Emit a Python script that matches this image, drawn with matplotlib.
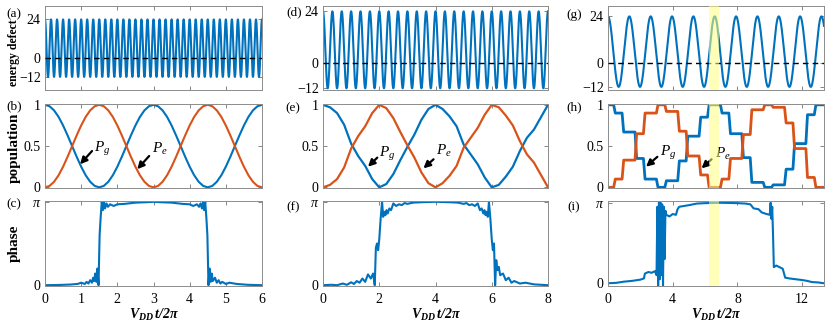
import numpy as np
import matplotlib
matplotlib.use('Agg')
import matplotlib.pyplot as plt

# police de type Times, comme la figure d'origine
plt.rcParams['font.family'] = ['Liberation Serif', 'DejaVu Serif']
plt.rcParams['mathtext.fontset'] = 'custom'
plt.rcParams['mathtext.rm'] = 'Liberation Serif'
plt.rcParams['mathtext.it'] = 'Liberation Serif:italic'
plt.rcParams['mathtext.bf'] = 'Liberation Serif:bold:italic'

BLUE = '#0072BD'
ORANGE = '#D95319'

# ---------------- donnees ----------------
# defaut d'energie : extremes et nombre de cycles par unite de V_DD t/2pi
defect_max = 24
defect_min = -12
defect_freq = [6.0, 3.0, 0.758]
t_end = [6, 8, 13.35]

# population P_g, panneau (b), pas de 0.125
pg_b = [1.0, 0.983, 0.933, 0.854, 0.75, 0.629, 0.5, 0.371, 0.25, 0.146, 0.067, 0.017, 0.0,
        0.017, 0.067, 0.146, 0.25, 0.371, 0.5, 0.629, 0.75, 0.854, 0.933, 0.983, 1.0,
        0.983, 0.933, 0.854, 0.75, 0.629, 0.5, 0.371, 0.25, 0.146, 0.067, 0.017, 0.0,
        0.017, 0.067, 0.146, 0.25, 0.371, 0.5, 0.629, 0.75, 0.854, 0.933, 0.983, 1.0]

# population P_g, panneau (e), pas de 0.25
pg_e = [1.0, 0.97, 0.9, 0.76, 0.53, 0.38, 0.26, 0.1, 0.0, 0.04, 0.16, 0.33, 0.49,
        0.64, 0.82, 0.95, 1.0, 0.95, 0.86, 0.74, 0.52, 0.4, 0.28, 0.12, 0.0,
        0.03, 0.13, 0.25, 0.44, 0.6, 0.7, 0.85, 1.0]

# population P_g, panneau (h) : instants des sauts et paliers
h_switch = [0.40, 0.92, 1.72, 2.24, 3.04, 3.56, 4.36, 4.88, 5.68, 6.20,
            7.00, 7.52, 8.32, 8.84, 9.64, 10.16, 10.96, 11.48, 12.28, 12.80]
h_pg_levels = [1.0, 0.9, 0.67, 0.35, 0.1, 0.0, 0.08, 0.32, 0.62, 0.85, 1.0,
               0.9, 0.65, 0.36, 0.06, 0.0, 0.03, 0.22, 0.53, 0.88, 1.0]

# phase (en unites de pi)
c_t = [0, 0.4, 0.7, 0.9, 1.0, 1.1, 1.15, 1.2, 1.25, 1.3, 1.33, 1.36, 1.39, 1.42, 1.45,
       1.48, 1.51, 1.54, 1.57, 1.6, 1.63, 1.66, 1.7, 1.74, 1.8, 1.9, 2.0, 2.2, 2.5, 2.8,
       3.0, 3.2, 3.5, 3.8, 4.0, 4.1, 4.2, 4.26, 4.3, 4.34, 4.37, 4.4, 4.43, 4.46, 4.49,
       4.52, 4.55, 4.58, 4.61, 4.64, 4.7, 4.75, 4.8, 4.85, 4.9, 5.0, 5.1, 5.3, 5.6, 6.0]
c_phase = [0, 0.003, 0.008, 0.015, 0.03, 0.015, 0.04, 0.02, 0.06, 0.03, 0.09, 0.05, 0.14, 0.04, 0.2,
           0.0, 0.6, 0.82, 1.0, 0.9, 1.0, 0.92, 0.98, 0.94, 0.97, 0.95, 0.97, 0.975, 0.99, 0.995,
           1.0, 0.995, 0.99, 0.975, 0.97, 0.95, 0.97, 0.94, 0.98, 0.92, 1.0, 0.9, 1.0, 0.82, 0.6,
           0.0, 0.2, 0.04, 0.14, 0.05, 0.09, 0.03, 0.06, 0.02, 0.04, 0.015, 0.03, 0.015, 0.005, 0.0]

f_t = [0, 0.3, 0.5, 0.7, 0.85, 1.0, 1.1, 1.2, 1.3, 1.4, 1.5, 1.6, 1.7, 1.78, 1.84, 1.88, 1.92,
       1.96, 2.0, 2.05, 2.1, 2.14, 2.18, 2.22, 2.26, 2.3, 2.36, 2.42, 2.5, 2.6, 2.7, 2.8, 2.9,
       3.0, 3.2, 3.5, 4.0, 4.5, 4.8, 5.0, 5.1, 5.2, 5.3, 5.4, 5.5, 5.58, 5.64, 5.7, 5.74, 5.78,
       5.82, 5.86, 5.9, 5.95, 6.0, 6.04, 6.08, 6.12, 6.16, 6.2, 6.25, 6.3, 6.4, 6.5, 6.6, 6.7,
       6.8, 7.0, 7.2, 7.5, 8.0]
f_phase = [0, 0.005, 0.0, 0.02, 0.005, 0.035, 0.015, 0.05, 0.03, 0.08, 0.04, 0.13, 0.08, 0.14, 0.0, 0.45, 0.5,
           0.42, 0.55, 0.8, 1.0, 0.82, 0.88, 0.84, 0.9, 0.86, 0.92, 0.9, 0.98, 0.95, 0.97, 0.96, 0.985,
           0.975, 0.99, 0.995, 1.0, 0.995, 0.99, 0.975, 0.985, 0.96, 0.97, 0.95, 0.98, 0.9, 0.92, 0.86, 0.9, 0.84,
           0.88, 0.82, 1.0, 0.8, 0.55, 0.42, 0.5, 0.0, 0.3, 0.18, 0.22, 0.12, 0.14, 0.06, 0.09, 0.03,
           0.05, 0.02, 0.03, 0.01, 0.0]

i_t = [0, 0.5, 1.0, 1.5, 2.0, 2.22, 2.28, 2.5, 2.7, 2.9, 3.0, 3.05, 3.1, 3.15, 3.2, 3.25, 3.3,
       3.35, 3.4, 3.45, 3.5, 3.55, 3.6, 3.8, 4.0, 4.2, 4.3, 4.4, 4.7, 5.0, 5.5, 6.0, 7.0, 8.0,
       8.5, 8.8, 9.0, 9.3, 9.5, 9.8, 10.0, 10.05, 10.1, 10.15, 10.2, 10.25, 10.4, 10.6, 10.8,
       10.95, 11.2, 11.6, 12.0, 12.3, 12.6, 13.0, 13.35]
i_phase = [0.0, 0.005, 0.02, 0.03, 0.045, 0.06, 0.12, 0.14, 0.13, 0.15, 0.1, 0.95, -0.03, 1.02, 0.05, 1.0, 0.1,
           0.98, -0.03, 0.95, 0.3, 0.9, 0.85, 0.83, 0.86, 0.85, 0.92, 0.95, 0.96, 0.97, 0.99, 0.995, 1.0, 0.995,
           0.99, 0.98, 0.93, 0.92, 0.88, 0.86, 0.85, 1.0, 0.8, 0.95, 0.6, 0.2, 0.22, 0.2, 0.18,
           0.07, 0.06, 0.05, 0.04, 0.03, 0.015, 0.01, 0.0]

# fleches P_g / P_e : (tete, queue, texte)
arrows = {
    1: [((0.97, 0.28), (1.3, 0.44), (1.36, 0.47), '$P_g$'),
        ((2.55, 0.22), (2.88, 0.38), (2.96, 0.47), '$P_e$')],
    4: [((1.6, 0.25), (1.93, 0.36), (2.0, 0.41), '$P_g$'),
        ((3.57, 0.23), (3.93, 0.34), (4.0, 0.44), '$P_e$')],
    7: [((2.35, 0.25), (3.05, 0.37), (3.2, 0.42), '$P_g$'),
        ((5.78, 0.23), (6.4, 0.34), (6.6, 0.40), '$P_e$')],
}
band = (6.23, 6.85)   # bande jaune des panneaux (g)-(i)

# ---------------- mise en page ----------------
W, H = 830, 329
col_px = [(45, 262), (323, 548), (608, 824)]
row_px = [(6, 90), (104, 188), (201, 286)]

fig = plt.figure(figsize=(W / 100, H / 100), dpi=100)


def add_ax(c, r):
    x0, x1 = col_px[c]
    y0, y1 = row_px[r]
    return fig.add_axes([x0 / W, 1 - y1 / H, (x1 - x0) / W, (y1 - y0) / H])


def style(ax):
    ax.tick_params(direction='in', top=True, right=True, length=3, width=0.6,
                   color='0.45', labelsize=10, pad=3)
    for s in ax.spines.values():
        s.set_color('0.55')
        s.set_linewidth(0.7)


xticks = [np.arange(0, 7, 1), np.arange(0, 9, 2), np.arange(0, 13, 4)]
defect_ylim = [(-20.2, 32.4), (-12.8, 26.5), (-13.6, 29.3)]
phase_data = [(c_t, c_phase), (f_t, f_phase), (i_t, i_phase)]
phase_ylim = [(-0.03, np.pi + 0.03), (-0.03, np.pi + 0.03), (-0.107, 3.21)]
letters = 'abcdefghi'
label_px = [[(14, 14), (14, 106), (14, 204)],
            [(294, 12), (293, 108), (293, 207)],
            [(574, 15), (574, 107), (574, 207)]]

mid = (defect_max + defect_min) / 2
amp = (defect_max - defect_min) / 2

for c in range(3):
    # energie
    ax = add_ax(c, 0)
    t = np.linspace(0, t_end[c], 4000)
    ax.plot(t, mid + amp * np.cos(2 * np.pi * defect_freq[c] * t), color=BLUE, lw=1.5)
    ax.axhline(0, color='k', ls='--', lw=1, dashes=(4, 3), zorder=3)
    ax.set_xlim(0, t_end[c])
    ax.set_ylim(*defect_ylim[c])
    ax.set_yticks([-12, 0, 24])
    ax.set_xticks(xticks[c])
    ax.set_xticklabels([])
    style(ax)
    if c == 2:
        ax.axvspan(*band, color='#FFFF80', alpha=0.55, lw=0, zorder=5)

    # population
    ax = add_ax(c, 1)
    if c == 0:
        tp = np.linspace(0, 6, len(pg_b))
        pg = np.array(pg_b)
        lw = 1.5
    elif c == 1:
        tp = np.linspace(0, 8, len(pg_e))
        pg = np.array(pg_e)
        lw = 1.6
    else:
        xs, ys = [0], [h_pg_levels[0]]
        for k, s in enumerate(h_switch):
            xs += [s - 0.05, s + 0.05]
            ys += [h_pg_levels[k], h_pg_levels[k + 1]]
        xs.append(t_end[2])
        ys.append(h_pg_levels[-1])
        tp, pg = np.array(xs), np.array(ys)
        lw = 2.0
    ax.plot(tp, pg, color=BLUE, lw=lw)
    ax.plot(tp, 1 - pg, color=ORANGE, lw=lw)
    ax.set_xlim(0, t_end[c])
    ax.set_ylim(-0.008, 1.01)
    ax.set_yticks([0, 0.5, 1])
    ax.set_yticklabels(['0', '0.5', '1'])
    ax.set_xticks(xticks[c])
    ax.set_xticklabels([])
    style(ax)
    for head, tail, txt, lab in arrows[3 * c + 1]:
        ax.annotate('', xy=head, xytext=tail,
                    arrowprops=dict(arrowstyle='-|>', color='k', lw=1.6,
                                    mutation_scale=10, shrinkA=0, shrinkB=0))
        ax.text(txt[0], txt[1], lab, fontsize=11, ha='left', va='center')
    if c == 2:
        ax.axvspan(*band, color='#FFFF80', alpha=0.55, lw=0, zorder=5)

    # phase
    ax = add_ax(c, 2)
    pt, pv = phase_data[c]
    ax.plot(pt, np.array(pv) * np.pi, color=BLUE, lw=1.5)
    ax.set_xlim(0, t_end[c])
    ax.set_ylim(*phase_ylim[c])
    ax.set_yticks([0, np.pi])
    ax.set_yticklabels(['0', r'$\pi$'], fontsize=11)
    ax.set_xticks(xticks[c])
    style(ax)
    ax.tick_params(axis='x', pad=5)
    ax.set_xlabel(r'$\mathbf{V_{DD}\,t/2\pi}$', fontsize=10, labelpad=1)
    if c == 2:
        ax.axvspan(*band, color='#FFFF80', alpha=0.55, lw=0, zorder=5)

    for r in range(3):
        x, y = label_px[c][r]
        fig.text(x / W, 1 - y / H, '(%s)' % letters[3 * c + r], fontsize=9.5,
                 ha='center', va='center')

fig.text(14 / W, 1 - 53 / H, 'energy defect', fontsize=8.5, fontweight='bold',
         rotation=90, ha='center', va='center')
fig.text(14 / W, 1 - 148 / H, 'population', fontsize=11, fontweight='bold',
         rotation=90, ha='center', va='center')
fig.text(14 / W, 1 - 243 / H, 'phase', fontsize=11, fontweight='bold',
         rotation=90, ha='center', va='center')

fig.savefig('out.png', dpi=100)
